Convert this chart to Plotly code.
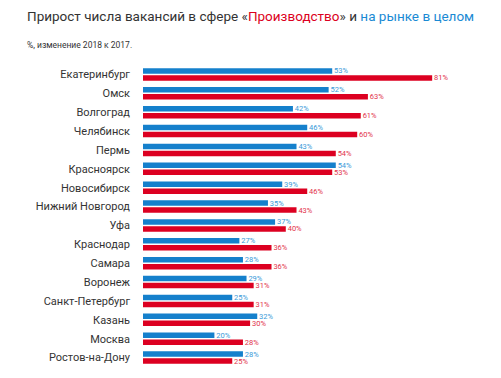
import plotly.graph_objects as go

cities = ["Екатеринбург", "Омск", "Волгоград", "Челябинск", "Пермь", "Красноярск",
          "Новосибирск", "Нижний Новгород", "Уфа", "Краснодар", "Самара", "Воронеж",
          "Санкт-Петербург", "Казань", "Москва", "Ростов-на-Дону"]
market = [53, 52, 42, 46, 43, 54, 39, 35, 37, 27, 28, 29, 25, 32, 20, 28]
production = [81, 63, 61, 60, 54, 53, 46, 43, 40, 36, 36, 31, 31, 30, 28, 25]

BLUE = "#1580cc"
RED = "#dc0021"
FONT = "Roboto"

fig = go.Figure()
fig.add_trace(go.Bar(
    y=cities, x=market, orientation="h", marker=dict(color=BLUE, line=dict(width=0)),
    text=[f" {v}%" for v in market], textposition="outside", constraintext="none",
    textfont=dict(size=7.5, color="#3a9ad9", family=FONT), cliponaxis=False,
    name="на рынке в целом", hoverinfo="skip"))
fig.add_trace(go.Bar(
    y=cities, x=production, orientation="h", marker=dict(color=RED, line=dict(width=0)),
    text=[f" {v}%" for v in production], textposition="outside", constraintext="none",
    textfont=dict(size=7.5, color="#e2324a", family=FONT), cliponaxis=False,
    name="Производство", hoverinfo="skip"))

T, B, L, R = 65, 11, 143, 1
fig.update_layout(
    width=501, height=378,
    margin=dict(l=L, r=R, t=T, b=B, autoexpand=False),
    paper_bgcolor="white", plot_bgcolor="white",
    barmode="group", bargap=0.26, bargroupgap=0.2,
    showlegend=False, hovermode=False,
    font=dict(family=FONT, color="#333333"),
    xaxis=dict(range=[0, 100], visible=False, fixedrange=True),
    yaxis=dict(autorange="reversed", showgrid=False, showline=False, zeroline=False,
               automargin=False, ticks="", ticklabelstandoff=12, fixedrange=True,
               tickfont=dict(size=11, color="#333333", family=FONT)),
    annotations=[
        dict(text="Прирост числа вакансий в сфере «<span style='color:#dc0021'>Производство</span>» и "
                  "<span style='color:#1a8ad4'>на рынке в целом</span>",
             x=25, y=16, xref="paper", yref="paper", showarrow=False,
             xanchor="left", yanchor="middle", font=dict(size=13.5, color="#333333", family=FONT)),
        dict(text="%, изменение 2018 к 2017.",
             x=25, y=45, xref="paper", yref="paper", showarrow=False,
             xanchor="left", yanchor="middle", font=dict(size=8.5, color="#333333", family=FONT)),
    ],
)

pw = 501 - L - R
ph = 378 - T - B
for a in fig.layout.annotations:
    a.x = (a.x - L) / pw
    a.y = 1 + (T - a.y) / ph

fig.write_html("out.html", config={"displayModeBar": False, "staticPlot": True},
               post_script="document.body.style.margin='0';document.body.style.overflow='hidden';")
